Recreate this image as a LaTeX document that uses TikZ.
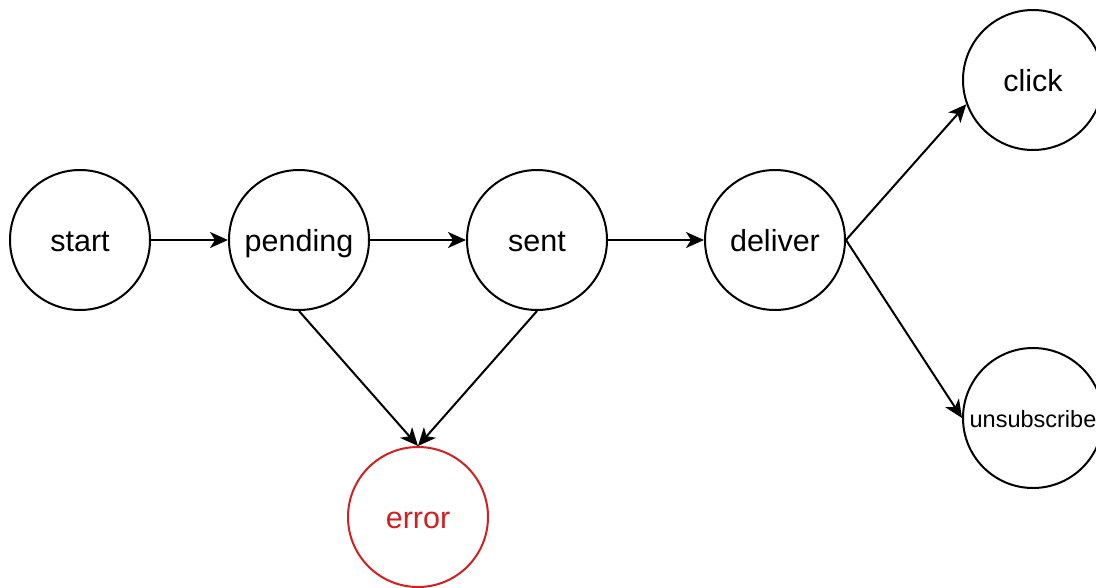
\documentclass[tikz,border=0pt]{standalone}
\usepackage{fontspec}
\setmainfont{Liberation Sans}
\usetikzlibrary{arrows.meta}
\definecolor{errred}{RGB}{208,32,32}
\begin{document}
\begin{tikzpicture}[x=1pt,y=-1pt,
  state/.style={circle,draw=black,line width=2pt,minimum size=140pt,inner sep=0pt,
    text height=22pt,text depth=0pt,font=\fontsize{30.5}{34}\selectfont},
  small/.style={text height=18pt,text depth=0pt,font=\fontsize{23.5}{26}\selectfont},
  errstate/.style={state,draw=errred,text=errred},
  conn/.style={line width=2pt,-{Stealth[length=18pt,width=16pt,inset=5pt]}}]
\useasboundingbox[fill=white] (0,0) rectangle (1096,587);
\node[state] (start) at (80,240) {start};
\node[state] (pending) at (299,240) {pending};
\node[state] (sent) at (537,240) {sent};
\node[state] (deliver) at (775,240) {deliver};
\node[state] (click) at (1033,80) {click};
\node[state,small] (unsub) at (1033,418) {unsubscribe};
\node[errstate] (error) at (418,517) {error};
\draw[conn] (start.east) -- (pending.west);
\draw[conn] (pending.east) -- (sent.west);
\draw[conn] (sent.east) -- (deliver.west);
\draw[conn] (deliver.east) -- (click.200);
\draw[conn] (deliver.east) -- (unsub.west);
\draw[conn] (pending.south) -- (error.north);
\draw[conn] (sent.south) -- (error.north);
\end{tikzpicture}
\end{document}
